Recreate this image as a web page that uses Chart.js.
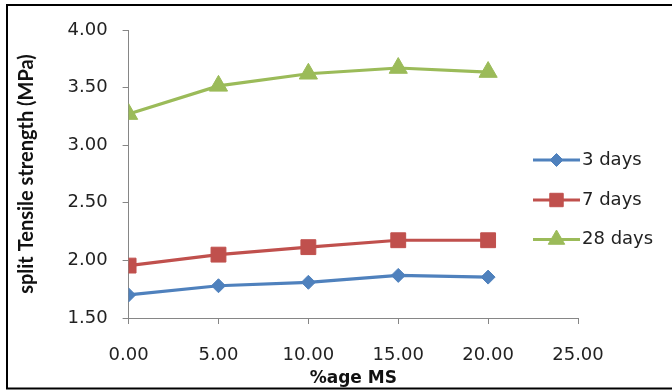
<!DOCTYPE html>
<html>
<head>
<meta charset="utf-8">
<script src="https://cdn.jsdelivr.net/npm/chart.js@4/dist/chart.umd.min.js"></script>
<style>
html,body{margin:0;padding:0;background:#fff;}
#wrap{position:relative;width:672px;height:391px;}
</style>
</head>
<body>
<div id="wrap"><canvas id="c" width="672" height="391"></canvas></div>
<script>
const xValues = [0, 5, 10, 15, 20];
const seriesNames = ['3 days', '7 days', '28 days'];
const days3 = [1.70, 1.78, 1.81, 1.87, 1.855];
const days7 = [1.955, 2.05, 2.115, 2.175, 2.175];
const days28 = [3.27, 3.515, 3.62, 3.67, 3.635];
const xTicksMin = 0, xTicksMax = 25, xStep = 5;
const yTicksMin = 1.5, yTicksMax = 4.0, yStep = 0.5;
const xTitle = '%age MS';
const yTitle = 'split Tensile strength (MPa)';

const colors = ['#4F81BD', '#C0504D', '#9BBB59'];
const styles = [
  {pointStyle: 'rectRot', radius: 7},
  {pointStyle: 'rect', radius: 10.5},
  {pointStyle: 'triangle', radius: 10.5}
];
const allSeries = [days3, days7, days28];

const datasets = allSeries.map((vals, i) => ({
  label: seriesNames[i],
  data: xValues.map((x, j) => ({x: x, y: vals[j]})),
  borderColor: colors[i],
  backgroundColor: colors[i],
  pointBackgroundColor: colors[i],
  pointBorderColor: colors[i],
  pointBorderWidth: 1,
  borderWidth: 3.2,
  pointStyle: styles[i].pointStyle,
  pointRadius: styles[i].radius,
  tension: 0
}));

const frameAndLegend = {
  id: 'frameAndLegend',
  afterDraw(chart) {
    const ctx = chart.ctx;
    ctx.save();
    ctx.strokeStyle = '#000';
    ctx.lineWidth = 2;
    ctx.strokeRect(7, 5, 700, 383.5);
    const legendY = [160, 200, 239.5];
    chart.data.datasets.forEach((ds, i) => {
      const y = legendY[i];
      ctx.strokeStyle = ds.borderColor;
      ctx.lineWidth = 3.2;
      ctx.beginPath();
      ctx.moveTo(533, y);
      ctx.lineTo(580, y);
      ctx.stroke();
      ctx.fillStyle = ds.backgroundColor;
      ctx.strokeStyle = ds.borderColor;
      ctx.lineWidth = 1;
      const r = ds.pointStyle === 'rectRot' ? 6.5 : 9.5;
      Chart.helpers.drawPoint(ctx, {pointStyle: ds.pointStyle, radius: r, rotation: 0, borderWidth: 1}, 556.5, y);
      ctx.fillStyle = '#222';
      ctx.font = '18px "DejaVu Sans"';
      ctx.textBaseline = 'middle';
      ctx.textAlign = 'left';
      ctx.fillText(ds.label, 582, y);
    });
    ctx.restore();
  }
};

new Chart(document.getElementById('c'), {
  type: 'line',
  data: {datasets: datasets},
  plugins: [frameAndLegend],
  options: {
    responsive: false,
    animation: false,
    layout: {padding: {left: 7, top: 30, right: 94, bottom: 0}},
    plugins: {legend: {display: false}, tooltip: {enabled: false}},
    scales: {
      x: {
        type: 'linear',
        min: xTicksMin, max: xTicksMax,
        ticks: {stepSize: xStep, color: '#222', font: {family: 'DejaVu Sans', size: 18}, padding: 21,
                callback: v => v.toFixed(2)},
        grid: {drawOnChartArea: false, drawTicks: true, tickLength: 6, color: '#868686'},
        border: {color: '#868686', width: 1},
        title: {display: true, text: xTitle, color: '#111', font: {family: 'DejaVu Sans', size: 17, weight: 'bold'}, padding: {top: 0, bottom: 2}},
        afterFit: s => { s.height = 391 - 318; }
      },
      y: {
        type: 'linear',
        min: yTicksMin, max: yTicksMax,
        ticks: {stepSize: yStep, color: '#222', font: {family: 'DejaVu Sans', size: 18}, padding: 15,
                callback: v => v.toFixed(2)},
        grid: {drawOnChartArea: false, drawTicks: true, tickLength: 6, color: '#868686'},
        border: {color: '#868686', width: 1},
        title: {display: true, text: yTitle, color: '#111', font: {family: 'Lato', size: 20, weight: 'bold'}, padding: {top: 8, bottom: 0}},
        afterFit: s => { s.width = 128.6 - 7; }
      }
    }
  }
});
</script>
</body>
</html>
